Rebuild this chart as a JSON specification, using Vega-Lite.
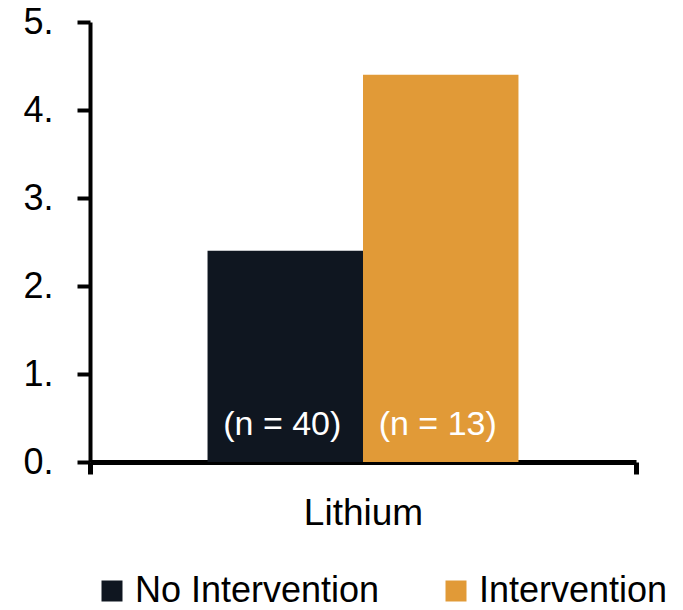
{
  "$schema": "https://vega.github.io/schema/vega-lite/v6.json",
  "autosize": "none",
  "width": 546,
  "height": 440,
  "padding": {"left": 90, "top": 22, "right": 47, "bottom": 148},
  "config": {
    "view": {"stroke": null},
    "font": "Liberation Sans",
    "axis": {"grid": false, "domainColor": "#000000", "tickColor": "#000000", "labelColor": "#000000", "labelFont": "Liberation Sans"},
    "legend": {"labelFont": "Liberation Sans"}
  },
  "data": {
    "values": [
      {"drug": "Lithium", "group": "No Intervention", "value": 2.4, "label": "(n = 40)"},
      {"drug": "Lithium", "group": "Intervention", "value": 4.4, "label": "(n = 13)"}
    ]
  },
  "encoding": {
    "x": {
      "field": "drug",
      "type": "nominal",
      "scale": {"paddingInner": 0, "paddingOuter": 0},
      "axis": {
        "title": null,
        "labelAngle": 0,
        "tickBand": "extent",
        "tickSize": 12,
        "tickWidth": 5,
        "domainWidth": 5,
        "labelFontSize": 37,
        "labelPadding": 21
      }
    },
    "xOffset": {
      "field": "group",
      "type": "nominal",
      "sort": ["No Intervention", "Intervention"],
      "scale": {"paddingInner": 0, "paddingOuter": 0.756}
    }
  },
  "layer": [
    {
      "mark": {"type": "bar"},
      "encoding": {
        "y": {
          "field": "value",
          "type": "quantitative",
          "scale": {"domain": [0, 5], "nice": false},
          "axis": {
            "title": null,
            "values": [0, 1, 2, 3, 4, 5],
            "labelExpr": "datum.value + '.'",
            "tickSize": 13,
            "tickWidth": 4,
            "domainWidth": 4,
            "labelFontSize": 36,
            "labelPadding": 24
          }
        },
        "color": {
          "field": "group",
          "type": "nominal",
          "sort": ["No Intervention", "Intervention"],
          "scale": {"domain": ["No Intervention", "Intervention"], "range": ["#0f1620", "#e19a37"]},
          "legend": {
            "title": null,
            "orient": "none",
            "direction": "horizontal",
            "legendX": 4,
            "legendY": 551,
            "padding": 0,
            "symbolType": "square",
            "symbolSize": 441,
            "symbolStrokeWidth": 0,
            "labelFontSize": 36,
            "labelColor": "#000000",
            "labelOffset": 5,
            "columnPadding": 58,
            "labelLimit": 400
          }
        }
      }
    },
    {
      "mark": {"type": "text", "color": "#ffffff", "fontSize": 34, "baseline": "middle", "dx": -3},
      "encoding": {
        "y": {"datum": 0.42},
        "text": {"field": "label"}
      }
    }
  ]
}
